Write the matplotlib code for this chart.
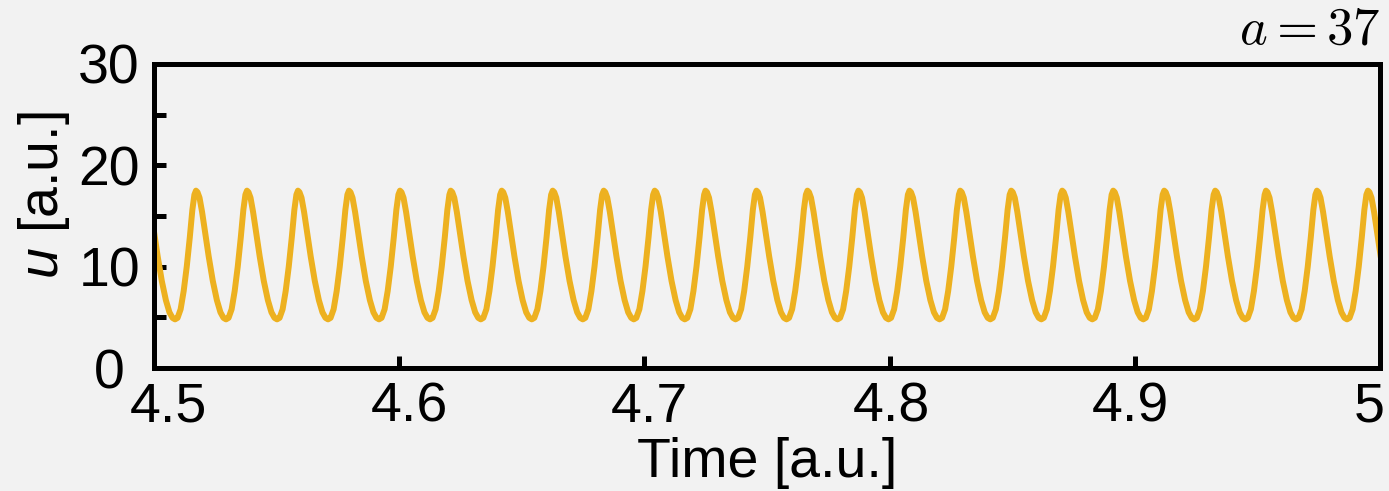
import numpy as np
import matplotlib
matplotlib.use('Agg')
import matplotlib.pyplot as plt
import matplotlib.transforms as mtransforms

# peak times (one extra before 4.5 so the line starts at the edge)
peak_times = [4.4963, 4.5171, 4.5379, 4.5587, 4.5795, 4.6003, 4.6210, 4.6418,
              4.6626, 4.6834, 4.7042, 4.7249, 4.7457, 4.7665, 4.7873, 4.8081,
              4.8288, 4.8496, 4.8704, 4.8912, 4.9120, 4.9328, 4.9535, 4.9743,
              4.9951]
period = 0.02078

cycle_phase = [0.00, 0.03, 0.07, 0.12, 0.18, 0.25, 0.33, 0.41, 0.48, 0.54,
               0.59, 0.64, 0.70, 0.76, 0.82, 0.88, 0.93, 0.97]
cycle_u = [17.5, 17.35, 16.8, 15.4, 13.4, 11.0, 8.6, 6.7, 5.5, 4.95,
           4.8, 4.95, 5.8, 7.6, 10.0, 12.9, 15.6, 17.1]

yticks = [0, 5, 10, 15, 20, 25, 30]
ytick_labels = ['0', '', '10', '', '20', '', '30']
xticks = [4.5, 4.6, 4.7, 4.8, 4.9, 5.0]
xtick_labels = ['4.5', '4.6', '4.7', '4.8', '4.9', '5']

t = []
u = []
for tp in peak_times:
    for ph, val in zip(cycle_phase, cycle_u):
        t.append(tp + ph * period)
        u.append(val)
t.append(peak_times[-1] + period)
u.append(cycle_u[0])

bg = '#f2f2f2'
plt.rcParams['font.family'] = ['Liberation Sans', 'DejaVu Sans']
plt.rcParams['mathtext.fontset'] = 'custom'
plt.rcParams['mathtext.it'] = 'Liberation Sans:italic'
plt.rcParams['mathtext.rm'] = 'Liberation Sans'

fig = plt.figure(figsize=(13.89, 4.91), dpi=100, facecolor=bg)
ax = fig.add_axes([0.1109, 0.2505, 0.8826, 0.6192])
ax.set_facecolor(bg)

ax.plot(t, u, color='#EDB120', lw=4.3, solid_joinstyle='round')

ax.set_xlim(4.5, 5.0)
ax.set_ylim(0, 30)
ax.set_xticks(xticks)
ax.set_xticklabels(xtick_labels)
ax.set_yticks(yticks)
ax.set_yticklabels(ytick_labels)
ax.tick_params(direction='in', length=8.5, width=3.6, labelsize=40, pad=10,
               top=False, right=False)

# the tick labels sit slightly off their ticks in the original
shifts = [14, 10, 4.5, 1.5, -4, -11]
for lab, dx in zip(ax.get_xticklabels(), shifts):
    lab.set_transform(lab.get_transform() +
                      mtransforms.ScaledTranslation(dx / 100, 0, fig.dpi_scale_trans))

# y tick labels are centred on one column, not right-aligned
for lab in ax.get_yticklabels():
    lab.set_horizontalalignment('center')
    lab.set_transform(lab.get_transform() +
                      mtransforms.ScaledTranslation(-0.31, 0, fig.dpi_scale_trans))

for s in ax.spines.values():
    s.set_linewidth(3.6)

ax.set_xlabel('Time [a.u.]', fontsize=40, labelpad=2)
ax.set_ylabel(r'$u$ [a.u.]', fontsize=40)
ax.yaxis.set_label_coords(-0.067, 0.57)

fig.text(0.9935, 0.912, r'$a = 37$', fontsize=38, ha='right', va='baseline',
         math_fontfamily='cm')

plt.savefig('out.png', dpi=100, facecolor=bg)
